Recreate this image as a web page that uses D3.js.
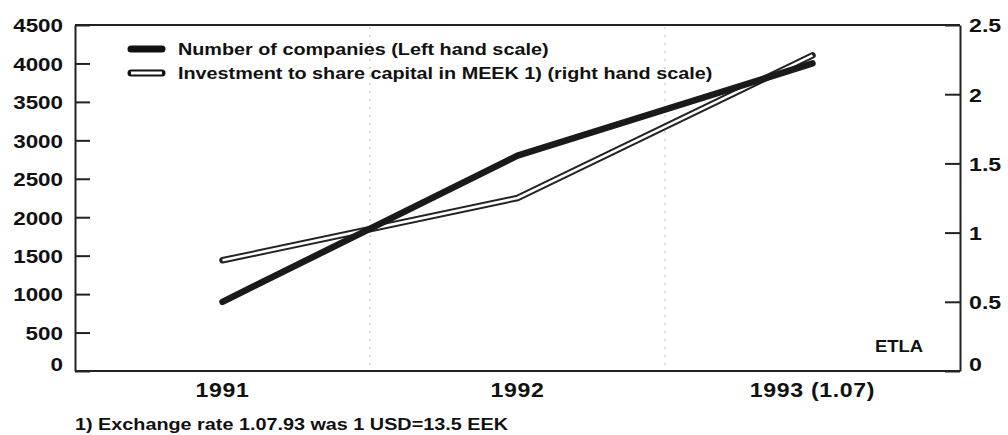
<!DOCTYPE html>
<html>
<head>
<meta charset="utf-8">
<script src="https://cdn.jsdelivr.net/npm/d3@7"></script>
<style>
  html, body { margin: 0; padding: 0; background: #fff; }
  svg { display: block; }
  text { font-family: "Liberation Sans", Arial, Helvetica, sans-serif; font-weight: bold; fill: #111; }
</style>
</head>
<body>
<svg id="chart" width="1008" height="435"></svg>
<script>
// ---- data ----
const categories = ["1991", "1992", "1993 (1.07)"];
const companies = [900, 2800, 4000];          // left hand scale
const investment = [0.80, 1.25, 2.28];        // right hand scale
const leftTicks = [0, 500, 1000, 1500, 2000, 2500, 3000, 3500, 4000, 4500];
const rightTicks = [0, 0.5, 1, 1.5, 2, 2.5];
const legendLabels = ["Number of companies (Left hand scale)",
                      "Investment to share capital in MEEK 1) (right hand scale)"];
const footnote = "1) Exchange rate 1.07.93 was 1 USD=13.5 EEK";
const sourceLabel = "ETLA";

// ---- layout ----
const L = 75, R = 960, T = 25, B = 371;
const svg = d3.select("#chart");

// horizontally widen text (the original type is wide)
function stretch(sel, k) {
  sel.each(function () {
    const t = d3.select(this);
    const x0 = +(t.attr("x") || 0);
    t.attr("x", x0 / k).attr("transform", `scale(${k},1)`);
  });
}

const x = d3.scaleBand().domain(categories).range([L, R]).padding(0);
const yL = d3.scaleLinear().domain([0, 4500]).range([B, T]);
const yR = d3.scaleLinear().domain([0, 2.5]).range([B, T]);
const cx = c => x(c) + x.bandwidth() / 2;

// dotted separators between categories
categories.slice(1).forEach(c => {
  svg.append("line")
    .attr("x1", x(c)).attr("x2", x(c))
    .attr("y1", T + 2).attr("y2", B)
    .attr("stroke", "#c8c8c8").attr("stroke-width", 1.2)
    .attr("stroke-dasharray", "2,6");
});

// frame: top and bottom
svg.append("line").attr("x1", L).attr("x2", R).attr("y1", T).attr("y2", T)
  .attr("stroke", "#222").attr("stroke-width", 2);
svg.append("line").attr("x1", L).attr("x2", R).attr("y1", B).attr("y2", B)
  .attr("stroke", "#222").attr("stroke-width", 2.2);

// left axis
const gL = svg.append("g").attr("transform", `translate(${L},0)`)
  .call(d3.axisLeft(yL).tickValues(leftTicks).tickSizeInner(-15).tickSizeOuter(0)
        .tickPadding(12).tickFormat(d3.format("d")));
gL.select(".domain").attr("stroke", "#222").attr("stroke-width", 2);
gL.selectAll(".tick line").attr("stroke", "#222").attr("stroke-width", 2);
gL.selectAll(".tick text").attr("font-size", 19)
  .attr("font-family", "Liberation Sans, Arial, sans-serif").attr("fill", "#111")
  .attr("dy", d => d === 0 ? "-0.02em" : "0.36em");
stretch(gL.selectAll(".tick text"), 1.18);

// right axis
const gR = svg.append("g").attr("transform", `translate(${R},0)`)
  .call(d3.axisRight(yR).tickValues(rightTicks).tickSizeInner(-15).tickSizeOuter(0)
        .tickPadding(9).tickFormat(d => String(d)));
gR.select(".domain").attr("stroke", "#222").attr("stroke-width", 2);
gR.selectAll(".tick line").attr("stroke", "#222").attr("stroke-width", 2);
gR.selectAll(".tick text").attr("font-size", 19)
  .attr("font-family", "Liberation Sans, Arial, sans-serif").attr("fill", "#111")
  .attr("dy", d => d === 0 ? "-0.02em" : "0.36em");
stretch(gR.selectAll(".tick text"), 1.22);

// x axis labels
const gX = svg.append("g").attr("transform", `translate(0,${B})`)
  .call(d3.axisBottom(x).tickSize(0).tickPadding(11));
gX.select(".domain").remove();
gX.selectAll(".tick text").attr("font-size", 21).attr("letter-spacing", "0.6px")
  .attr("font-family", "Liberation Sans, Arial, sans-serif").attr("fill", "#111");
stretch(gX.selectAll(".tick text"), 1.1);

// lines
const lineL = d3.line().x((d, i) => cx(categories[i])).y(d => yL(d));
const lineR = d3.line().x((d, i) => cx(categories[i])).y(d => yR(d));

svg.append("path").datum(investment).attr("d", lineR)
  .attr("fill", "none").attr("stroke", "#222").attr("stroke-width", 6.5)
  .attr("stroke-linecap", "round").attr("stroke-linejoin", "round");
svg.append("path").datum(investment).attr("d", lineR)
  .attr("fill", "none").attr("stroke", "#fff").attr("stroke-width", 2.6)
  .attr("stroke-linecap", "butt").attr("stroke-linejoin", "round");

svg.append("path").datum(companies).attr("d", lineL)
  .attr("fill", "none").attr("stroke", "#1a1a1a").attr("stroke-width", 6.5)
  .attr("stroke-linecap", "round").attr("stroke-linejoin", "round");

// legend
const lg = svg.append("g");
lg.append("line").attr("x1", 131).attr("x2", 162).attr("y1", 49).attr("y2", 49)
  .attr("stroke", "#111").attr("stroke-width", 7).attr("stroke-linecap", "round");
lg.append("line").attr("x1", 131).attr("x2", 162).attr("y1", 73).attr("y2", 73)
  .attr("stroke", "#111").attr("stroke-width", 7).attr("stroke-linecap", "round");
lg.append("line").attr("x1", 131).attr("x2", 162).attr("y1", 73).attr("y2", 73)
  .attr("stroke", "#fff").attr("stroke-width", 3);
const legTexts = lg.selectAll("text.leg").data(legendLabels).join("text").attr("class", "leg")
  .attr("x", 178).attr("y", (d, i) => 55 + i * 24)
  .attr("font-size", 17).text(d => d);
stretch(legTexts, 1.165);

// source label
const src = svg.append("text").attr("x", 899).attr("y", 352).attr("text-anchor", "middle")
  .attr("font-size", 16.5).text(sourceLabel);
stretch(src, 1.12);

// footnote
const fn = svg.append("text").attr("x", 75).attr("y", 430)
  .attr("font-size", 16.5).text(footnote);
stretch(fn, 1.2);
</script>
</body>
</html>
